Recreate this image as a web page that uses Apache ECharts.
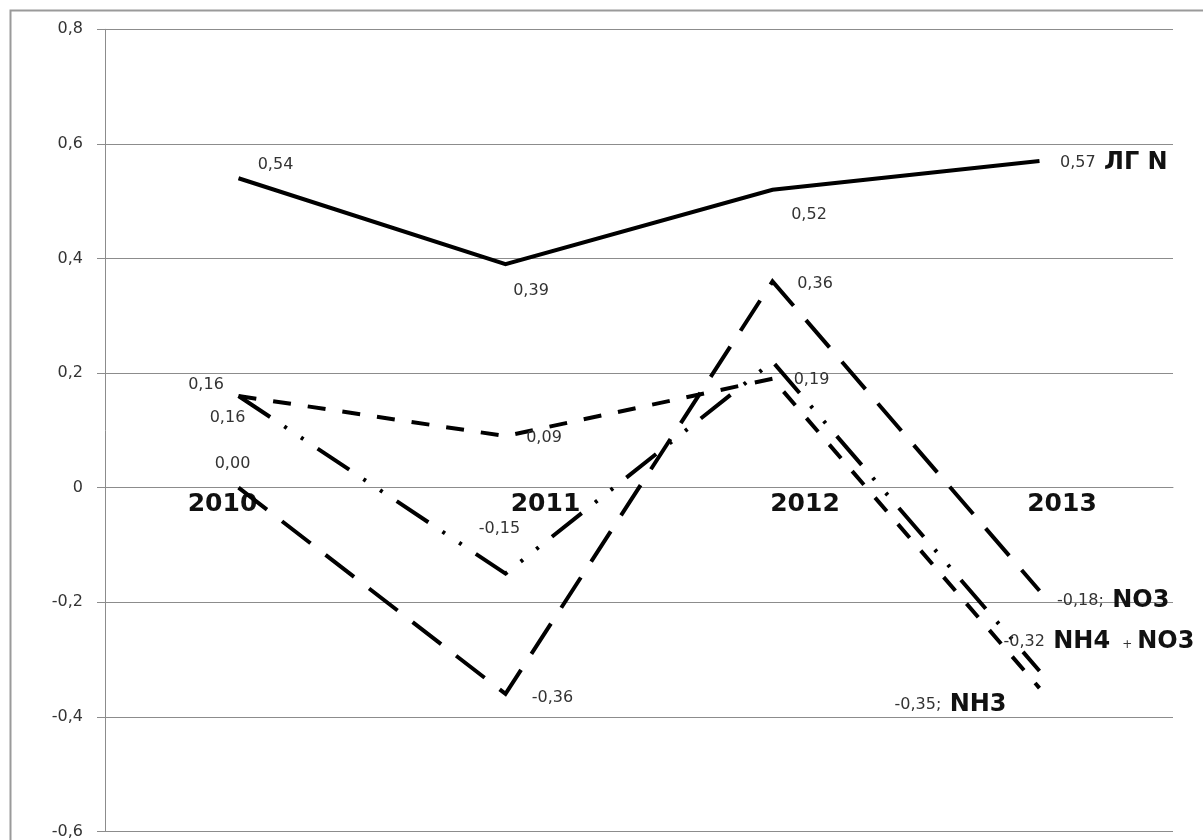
<!DOCTYPE html>
<html>
<head>
<meta charset="utf-8">
<title>ЛГ N, NO3, NH4 + NO3, NH3</title>
<script src="https://cdn.jsdelivr.net/npm/echarts@6/dist/echarts.min.js"></script>
<style>
  html, body { margin: 0; padding: 0; background: #fff; }
  #chart { width: 1203px; height: 840px; }
</style>
</head>
<body>
<div id="chart"></div>
<script>
// Categories and values of the four series
const years = ['2010', '2011', '2012', '2013'];
const lgN = [0.54, 0.39, 0.52, 0.57];
const no3 = [0.00, -0.36, 0.36, -0.18];
const nh4no3 = [0.16, -0.15, 0.22, -0.32];
const nh3 = [0.16, 0.09, 0.19, -0.35];
const seriesNames = ['ЛГ N', 'NO3', 'NH4 + NO3', 'NH3'];
const yMin = -0.6, yMax = 0.8, yStep = 0.2;

const FONT = 'DejaVu Sans';
const TXT = '#333';

const W = 1203, H = 840;
const gridBox = { left: 105, right: 30, top: 29.3, bottom: 8.6 };
const plotH = H - gridBox.top - gridBox.bottom;
// the category axis sits on the zero line of the value axis
const zeroShift = -plotH * (0 - yMin) / (yMax - yMin);

function fmt(v) {
  return v.toFixed(2).replace('.', ',');
}

// value label placed around the point (center offset)
function around(dx, dy) {
  return { show: true, position: 'inside', offset: [dx, dy] };
}
// end-of-line label: value + series name
function endLabel(pos, dx, dy, text) {
  return { show: true, position: pos, distance: 0, offset: [dx, dy], formatter: () => text };
}

function buildData(values, labels) {
  return values.map((v, i) => {
    const item = { value: v };
    item.label = labels[i] ? labels[i] : { show: false };
    return item;
  });
}

const nameRich = {
  v: { fontFamily: FONT, fontSize: 16, color: TXT, verticalAlign: 'middle' },
  n: { fontFamily: FONT, fontSize: 24, fontWeight: 'bold', color: '#111', verticalAlign: 'middle' },
  p: { fontFamily: FONT, fontSize: 12, color: '#333', verticalAlign: 'middle', padding: [6, 5, 0, 12] }
};

const commonLabel = {
  fontFamily: FONT, fontSize: 16, color: TXT,
  formatter: p => fmt(p.value),
  rich: nameRich
};

function lineSeries(name, values, labels, dash, z) {
  return {
    name: name,
    type: 'line',
    data: buildData(values, labels),
    symbol: 'circle',
    symbolSize: 1,
    showAllSymbol: true,
    itemStyle: { color: 'rgba(0,0,0,0)', borderWidth: 0 },
    lineStyle: { color: '#000', width: 4, type: dash, cap: 'butt', join: 'miter' },
    label: commonLabel,
    emphasis: { disabled: true },
    z: z
  };
}

const chart = echarts.init(document.getElementById('chart'), null, { renderer: 'canvas' });

const yearStyle = { fontFamily: FONT, fontSize: 25, fontWeight: 'bold', color: '#111' };

const option = {
  animation: false,
  backgroundColor: '#fff',
  graphic: [{
    type: 'rect',
    shape: { x: 10.5, y: 10.5, width: 1300, height: 1000 },
    style: { fill: 'none', stroke: '#9a9a9a', lineWidth: 2 },
    silent: true, z: -10
  }],
  grid: Object.assign({ containLabel: false, outerBoundsMode: 'none' }, gridBox),
  xAxis: {
    type: 'category',
    data: years,
    boundaryGap: true,
    position: 'bottom',
    offset: zeroShift,
    axisLine: { show: true, onZero: false, lineStyle: { color: '#8c8c8c', width: 1 } },
    axisTick: { show: false },
    splitLine: { show: false },
    axisLabel: {
      margin: 4,
      interval: 0,
      hideOverlap: false,
      formatter: (v, i) => '{c' + i + '|' + v + '}',
      rich: {
        c0: Object.assign({ padding: [0, 32, 0, 0] }, yearStyle),
        c1: Object.assign({ padding: [0, 0, 0, 80] }, yearStyle),
        c2: Object.assign({ padding: [0, 0, 0, 65] }, yearStyle),
        c3: Object.assign({ padding: [0, 0, 0, 45] }, yearStyle)
      }
    }
  },
  yAxis: {
    type: 'value',
    min: yMin,
    max: yMax,
    interval: yStep,
    axisLine: { show: true, lineStyle: { color: '#8c8c8c', width: 1 } },
    axisTick: { show: true, length: 8, lineStyle: { color: '#8c8c8c' } },
    splitLine: { show: true, lineStyle: { color: '#8c8c8c', width: 1 } },
    axisLabel: {
      fontFamily: FONT, fontSize: 16, color: TXT, margin: 22,
      formatter: v => Math.abs(v) < 1e-9 ? '0' : (Math.round(v * 10) / 10).toFixed(1).replace('.', ',')
    }
  },
  series: [
    lineSeries(seriesNames[0], lgN, [
      around(37, -13),
      around(25.5, 27),
      around(36.5, 25),
      endLabel('right', 20, 2, '{v|' + fmt(lgN[3]) + '}{n| ЛГ N}')
    ], 'solid', 5),
    lineSeries(seriesNames[1], no3, [
      around(-6, -24),
      around(47, 3.5),
      around(42.5, 2),
      endLabel('right', 17, 10, '{v|' + fmt(no3[3]) + ';}{n| NO3}')
    ], [36, 19], 4),
    lineSeries(seriesNames[2], nh4no3, [
      around(-11, 22),
      around(-6, -45),
      null,
      endLabel('right', -36.5, -29.5, '{v|' + fmt(nh4no3[3]) + '}{n| NH4}{p|+}{n|NO3}')
    ], [38, 17, 3, 17, 3, 17], 3),
    lineSeries(seriesNames[3], nh3, [
      around(-32.5, -11),
      around(38.5, 2),
      around(39, 1.5),
      endLabel('left', -32.5, 17, '{v|' + fmt(nh3[3]) + ';}{n| NH3}')
    ], [18, 17], 2)
  ]
};

chart.setOption(option);
</script>
</body>
</html>
